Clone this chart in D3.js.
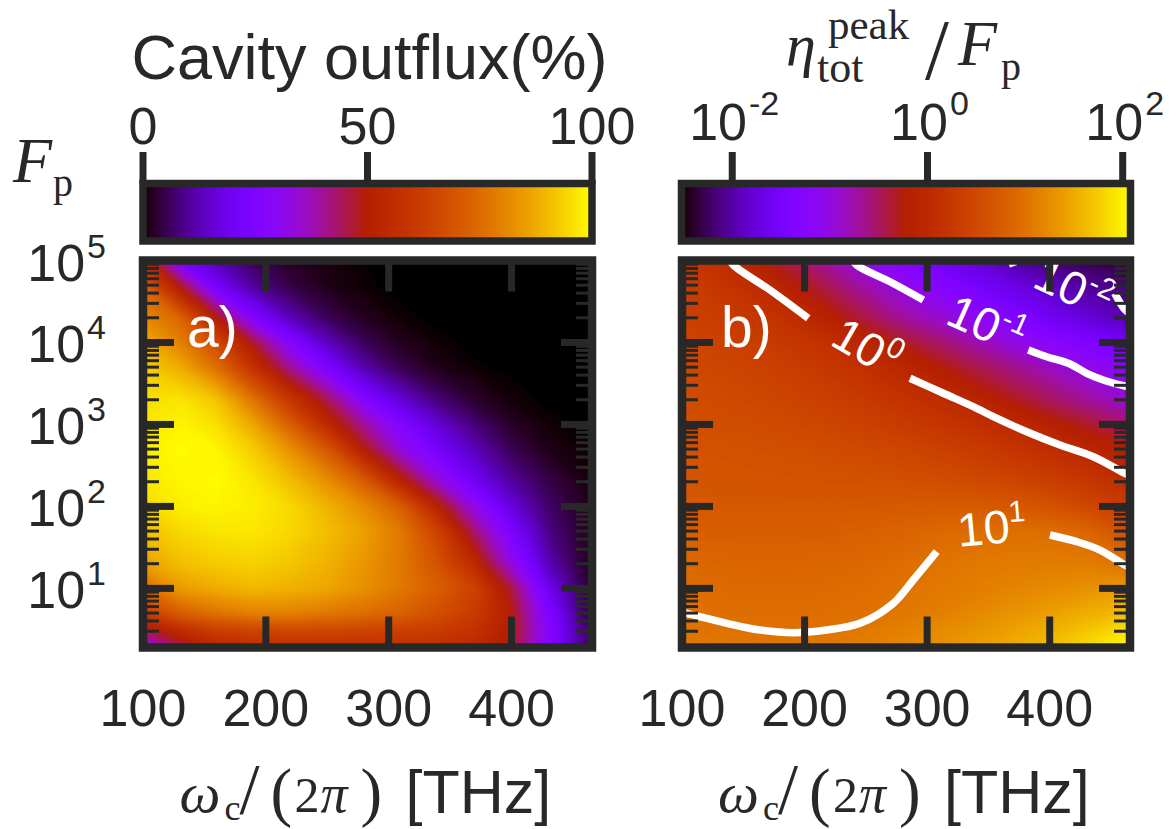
<!DOCTYPE html>
<html><head><meta charset="utf-8">
<script src="https://cdn.jsdelivr.net/npm/d3@7"></script>
<style>html,body{margin:0;padding:0;background:#fff;} svg{display:block;}</style>
</head><body>
<svg id="chart" width="1176" height="829"></svg>
<script>
// ---------------- DATA ----------------
const xCols = [100,130,160,190,220,250,280,310,340,370,400,430,460];          // ω_c/(2π) [THz]
const fpRows = [2,3,5,10,20,50,100,200,500,1000,2000,5000,10000,20000,50000,100000]; // F_p
// panel a: cavity outflux (%), one row per fpRows entry, one value per xCols entry
const outfluxPct = [
 [30,45,55,57,58,58,58,58,57,55,48,27,8],
 [45,55,62,64,65,65,64,63,62,58,50,28,8],
 [62,72,77,80,80,78,76,73,68,62,50,25,6],
 [75,85,88,90,89,87,83,78,72,64,46,20,4.5],
 [85,91,93,94,92,89,84,78,69,55,33,13,3],
 [91,95,97,97,95,91,86,78,64,43,24,9,2.5],
 [95,98,99,98,95,89,82,72,52,32,17,7,2],
 [97,99,100,97,91,83,72,53,35,21,11,5,1.2],
 [98,100,99,93,83,70,50,33,22,13,5.5,1.5,0.3],
 [97,99,96,87,72,55,40,26,16,8,2.5,0.5,0],
 [96,97,92,77,60,45,27,16,8,3,0.6,0,0],
 [93,88,76,58,40,24,12,5,1.5,0.3,0,0,0],
 [88,80,66,47,27,14,6,2,0.4,0,0,0,0],
 [82,74,50,26,13,6,2,0.4,0,0,0,0,0],
 [72,48,21,10,4.5,1.5,0.3,0,0,0,0,0,0],
 [58,23,13,6,2.5,1,0.2,0,0,0,0,0,0]
];
// panel b: log10( eta_tot^peak / F_p ), same grid
const logEtaOverFp = [
 [1.08,1.06,1.05,1.06,1.09,1.14,1.22,1.30,1.40,1.52,1.66,1.85,2.08],
 [1.04,1.01,1.00,1.00,1.03,1.08,1.16,1.24,1.34,1.45,1.57,1.72,1.90],
 [1.00,0.97,0.96,0.96,0.97,1.00,1.06,1.14,1.23,1.32,1.42,1.54,1.65],
 [0.96,0.93,0.92,0.92,0.93,0.96,1.01,1.07,1.13,1.19,1.24,1.30,1.38],
 [0.90,0.88,0.87,0.87,0.88,0.91,0.96,1.03,1.08,1.11,1.12,1.12,1.00],
 [0.80,0.79,0.79,0.79,0.80,0.82,0.86,0.91,0.95,0.98,0.96,0.88,0.65],
 [0.72,0.72,0.72,0.72,0.72,0.73,0.74,0.75,0.74,0.72,0.65,0.52,0.35],
 [0.68,0.67,0.66,0.65,0.64,0.63,0.61,0.58,0.54,0.47,0.38,0.25,0.10],
 [0.64,0.63,0.61,0.59,0.56,0.52,0.47,0.40,0.31,0.20,0.07,-0.06,-0.20],
 [0.60,0.58,0.56,0.52,0.47,0.40,0.32,0.22,0.12,0.00,-0.15,-0.32,-0.50],
 [0.56,0.54,0.50,0.45,0.38,0.28,0.17,0.06,-0.10,-0.28,-0.48,-0.68,-0.88],
 [0.52,0.48,0.43,0.35,0.24,0.11,-0.04,-0.22,-0.42,-0.62,-0.83,-1.03,-1.20],
 [0.47,0.42,0.35,0.24,0.11,-0.08,-0.30,-0.52,-0.76,-1.00,-1.20,-1.38,-1.53],
 [0.40,0.34,0.24,0.08,-0.15,-0.42,-0.68,-0.90,-1.12,-1.35,-1.57,-1.77,-1.93],
 [0.33,0.22,0.04,-0.20,-0.47,-0.75,-1.03,-1.27,-1.50,-1.70,-1.88,-2.05,-2.12],
 [0.25,0.08,-0.18,-0.45,-0.75,-1.07,-1.33,-1.55,-1.78,-2.00,-2.15,-2.27,-2.37]
];
// contour lines of panel b: [x THz, log10 F_p] points, split where labels sit
const contourLines = [
 {exp:"0",  segs:[[[137,5.05],[141.9,4.945],[171.8,4.64],[203.0,4.295]],
                  [[286.0,3.563],[313.2,3.38],[340.4,3.197],[354.0,3.095],[381.2,2.911],[408.4,2.749],[435.6,2.606],[461.4,2.404],[468,2.36]]]},
 {exp:"-1", segs:[[[237,5.05],[242.5,4.945],[269.7,4.741],[296.9,4.518]],
                  [[382.5,3.908],[397.5,3.826],[416.6,3.737],[430.2,3.624],[443.7,3.542],[461.4,3.469],[468,3.45]]]},
 {exp:"-2", segs:[[[367.5,5.05],[370.5,4.93]],
                  [[453,4.60],[461.4,4.40],[468,4.33]]]},
 {exp:"1",  segs:[[[95,0.72],[103.8,0.696],[136.5,0.574],[163.6,0.492],[190.8,0.459],[218.0,0.492],[245.2,0.574],[272.4,0.818],[288.7,1.102],[307.8,1.448]],
                  [[400.2,1.651],[422.0,1.57],[441.0,1.468],[461.4,1.285],[468,1.23]]]}
];
const contourLabels = [
 {exp:"0",  x:250.7, logFp:3.95, angle:30},
 {exp:"-1", x:348.6, logFp:4.23, angle:24},
 {exp:"-2", x:419.5, logFp:4.67, angle:25},
 {exp:"1",  x:352.7, logFp:1.75, angle:-5}
];
const xTickValues = [100,200,300,400];
const yTickExps = [1,2,3,4,5];
const cbarATicks = [0,50,100];
const cbarBTickExps = [-2,0,2];

// ---------------- SETUP ----------------
const SANS = "'Liberation Sans', Arial, Helvetica, sans-serif";
const SERIF = "'Liberation Serif', 'Times New Roman', serif";
const INK = "#282828";
const svg = d3.select('#chart');
const defs = svg.append('defs');

const gnuplot = t => { t = Math.max(0, Math.min(1, t));
  return d3.rgb(255*Math.sqrt(t), 255*t*t*t, 255*Math.max(0, Math.sin(2*Math.PI*t))).formatHex(); };

const X_DOMAIN = [100, 465.5];
const xA = d3.scaleLinear().domain(X_DOMAIN).range([143, 592]);
const xB = d3.scaleLinear().domain(X_DOMAIN).range([682, 1130]);
const y = d3.scaleLog().domain([1.9, 1e5]).range([647.5, 260.5]);
const colorA = d3.scaleSequential(gnuplot).domain([0, 100]);
const B_LOG = [-2.52, 2.08];
const colorB = d3.scaleSequential(gnuplot).domain(B_LOG);
const cbA = d3.scaleLinear().domain([0, 100]).range([143, 592]);
const cbB = d3.scaleLog().domain([10**B_LOG[0], 10**B_LOG[1]]).range([681.5, 1130.5]);

const filt = defs.append('filter').attr('id','smooth').attr('filterUnits','userSpaceOnUse')
  .attr('x',0).attr('y',150).attr('width',1176).attr('height',600)
  .attr('color-interpolation-filters','sRGB');
filt.append('feGaussianBlur').attr('stdDeviation','3 2.5');

const Lrows = fpRows.map(Math.log10);
// grid coordinate (cell centres at k+0.5) -> data value, linear between read points
function gridToData(arr, u){
  const k = u - 0.5, n = arr.length - 1;
  if (k <= 0) return arr[0] + k*(arr[1]-arr[0]);
  if (k >= n) return arr[n] + (k-n)*(arr[n]-arr[n-1]);
  const i = Math.floor(k); return arr[i] + (k-i)*(arr[i+1]-arr[i]);
}

function heatmap(id, xs, grid, color, thresholds){
  const r = xs.range();
  defs.append('clipPath').attr('id', id).append('rect')
    .attr('x', r[0]).attr('y', y.range()[1]).attr('width', r[1]-r[0]).attr('height', y.range()[0]-y.range()[1]);
  const nx = xCols.length, ny = fpRows.length;
  const values = grid.flat();
  const bands = d3.contours().size([nx, ny]).thresholds(thresholds)(values);
  const proj = d3.geoTransform({ point(u, v){ this.stream.point(xs(gridToData(xCols, u)), y(10**gridToData(Lrows, v))); } });
  const path = d3.geoPath(proj);
  const g = svg.append('g').attr('clip-path', `url(#${id})`).append('g').attr('filter','url(#smooth)');
  g.selectAll('path').data(bands).join('path')
    .attr('d', path).attr('fill', d => color(d.value))
    .attr('stroke', d => color(d.value)).attr('stroke-width', 0.6);
}
heatmap('clipA', xA, outfluxPct, colorA, d3.range(0, 3, 0.2).concat(d3.range(3, 100.5, 0.75)));
heatmap('clipB', xB, logEtaOverFp, colorB, d3.range(-2.6, 2.12, 0.03));

// contours (panel b)
const cg = svg.append('g').attr('clip-path','url(#clipB)');
const line = d3.line().x(d=>xB(d[0])).y(d=>y(10**d[1])).curve(d3.curveCatmullRom.alpha(0.5));
contourLines.forEach(c => c.segs.forEach(s => cg.append('path').attr('d', line(s))
  .attr('fill','none').attr('stroke','#fff').attr('stroke-width',7.5)));
contourLabels.forEach(l => {
  const t = cg.append('text').attr('transform', `translate(${xB(l.x)},${y(10**l.logFp)}) rotate(${l.angle})`)
    .attr('text-anchor','middle').attr('dy','0.36em').attr('fill','#fff')
    .style('font-family', SANS).style('font-size','47px');
  t.append('tspan').text('10');
  t.append('tspan').attr('dy', -20).style('font-size','30px').text(l.exp);
});

// frames + ticks
function frame(xs){
  const g = svg.append('g').attr('stroke', INK).attr('fill','none');
  const [x0,x1] = xs.range(); const [yb,yt] = y.range();
  g.append('rect').attr('x',x0).attr('y',yt).attr('width',x1-x0).attr('height',yb-yt).attr('stroke-width',8.5);
  xTickValues.filter(v=>v>X_DOMAIN[0]).forEach(v=>{
    g.append('line').attr('x1',xs(v)).attr('x2',xs(v)).attr('y1',yb).attr('y2',yb-31).attr('stroke-width',7);
    g.append('line').attr('x1',xs(v)).attr('x2',xs(v)).attr('y1',yt).attr('y2',yt+31).attr('stroke-width',7);
  });
  yTickExps.filter(e=>10**e<1e5).forEach(e=>{
    const p = y(10**e);
    g.append('line').attr('x1',x0).attr('x2',x0+31).attr('y1',p).attr('y2',p).attr('stroke-width',7);
    g.append('line').attr('x1',x1).attr('x2',x1-31).attr('y1',p).attr('y2',p).attr('stroke-width',7);
  });
  for (let k=0;k<5;k++) for (let m=2;m<10;m++){
    const v = m*10**k; if (v<=y.domain()[0] || v>=1e5) continue;
    const p = y(v);
    g.append('line').attr('x1',x0).attr('x2',x0+16).attr('y1',p).attr('y2',p).attr('stroke-width',3);
    g.append('line').attr('x1',x1).attr('x2',x1-16).attr('y1',p).attr('y2',p).attr('stroke-width',3);
  }
}
frame(xA); frame(xB);

// colorbars
function colorbar(id, sc){
  const [r0,r1] = sc.range();
  const grad = defs.append('linearGradient').attr('id',id).attr('gradientUnits','userSpaceOnUse')
    .attr('x1',r0).attr('x2',r1).attr('y1',0).attr('y2',0);
  d3.range(0,101).forEach(i => grad.append('stop').attr('offset', i/100).attr('stop-color', gnuplot(i/100)));
  svg.append('rect').attr('x',r0).attr('y',183.5).attr('width',r1-r0).attr('height',57.5)
    .attr('fill',`url(#${id})`).attr('stroke',INK).attr('stroke-width',7.5);
}
colorbar('gradA', cbA); colorbar('gradB', cbB);
const tg = svg.append('g').attr('stroke',INK).attr('stroke-width',7);
cbarATicks.forEach(v=> tg.append('line').attr('x1',cbA(v)).attr('x2',cbA(v)).attr('y1',183.5).attr('y2',152));
cbarBTickExps.forEach(e=> tg.append('line').attr('x1',cbB(10**e)).attr('x2',cbB(10**e)).attr('y1',183.5).attr('y2',152));

// ---------------- TEXT ----------------
function text(x, yy, str, size, opts={}){
  const t = svg.append('text').attr('x',x).attr('y',yy).text(str)
    .attr('fill', opts.fill || INK).attr('text-anchor', opts.anchor || 'start')
    .style('font-family', opts.family || SANS).style('font-size', size+'px');
  if (opts.italic) t.style('font-style','italic');
  return t;
}
function pow(x, yy, exp, anchor, size, supSize, raise){
  const t = svg.append('text').attr('x',x).attr('y',yy).attr('fill',INK).attr('text-anchor',anchor)
    .style('font-family',SANS).style('font-size',size+'px');
  t.append('tspan').text('10');
  t.append('tspan').attr('dx',2).attr('dy',-raise).style('font-size',supSize+'px').text(exp);
  return t;
}
// titles
text(369.5, 79, 'Cavity outflux(%)', 63, {anchor:'middle'});
text(786, 65, 'η', 60, {family:SERIF, italic:true});
text(828, 39, 'peak', 43, {family:SERIF});
text(817, 82, 'tot', 44, {family:SERIF});
text(925, 79, '/', 86, {family:SERIF});
text(958, 65, 'F', 64, {family:SERIF, italic:true});
text(1001, 80, 'p', 40, {family:SERIF});
// F_p y label
text(13, 182, 'F', 64, {family:SERIF, italic:true});
text(53, 196, 'p', 40, {family:SERIF});
// colorbar labels
cbarATicks.forEach(v => text(cbA(v), 144, String(v), 52, {anchor:'middle'}));
cbarBTickExps.forEach(e => pow(cbB(10**e)+2, 140, String(e), 'middle', 52, 34, 25));
// y tick labels
yTickExps.forEach(e => pow(106, y(10**e)+20, String(e), 'end', 52, 34, 23));
// x tick labels
xTickValues.forEach(v => { text(xA(v), 726, String(v), 52, {anchor:'middle'}); text(xB(v), 726, String(v), 52, {anchor:'middle'}); });
// x axis labels
[xA, xB].forEach(xs => {
  const c = (xs.range()[0]+xs.range()[1])/2;
  text(c-188, 812, 'ω', 58, {family:SERIF, italic:true});
  text(c-143, 820, 'c', 36, {family:SERIF});
  text(c-128, 813, '/', 72, {family:SERIF});
  text(c-97, 814, '(', 65, {family:SERIF});
  text(c-73, 812, '2', 50, {family:SERIF});
  text(c-47, 812, 'π', 54, {family:SERIF, italic:true});
  text(c-7, 814, ')', 65, {family:SERIF});
  text(c+38, 813, '[THz]', 61);
});
// panel letters
text(187, 347, 'a)', 57, {fill:'#fff'});
text(721, 347, 'b)', 57, {fill:'#fff'});
</script>
</body></html>
